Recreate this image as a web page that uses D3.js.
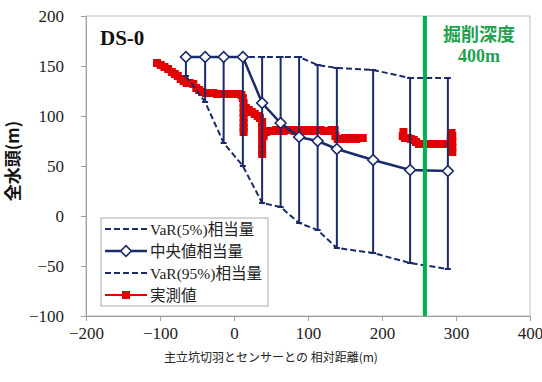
<!DOCTYPE html>
<html>
<head>
<meta charset="utf-8">
<script src="https://cdn.jsdelivr.net/npm/d3@7"></script>
<style>
  body { margin: 0; background: #fff; }
  svg { display: block; }
</style>
</head>
<body>
<div id="chart"></div>
<script>
// distance from shaft face (m)
var distances = [-65, -39, -14, 12, 38, 63, 88, 113, 139, 188, 238, 289];
var median = [159, 159, 159, 159, 113, 93, 79, 75, 67, 56, 46, 45];
var var5 = [159, 159, 159, 159, 159, 159, 159, 151, 148, 146, 138, 138];
var var95 = [140, 114, 73, 50, 13, 9, -7, -14, -32, -37, -47, -53];

// measured head, two pieces (gap in between)
var measX1 = [-104, -99, -94, -89, -84, -80, -76, -72, -68, -64, -60, -55, -51, -47, -43, -38, -33, -28, -23, -18, -13, -8, -3, 2, 7, 10,
  12, 13, 13, 13, 13, 13, 13, 13, 16, 20, 24, 28, 32, 35,
  38, 38, 38, 38, 38, 38, 38, 40, 43, 47, 52, 57, 62, 67, 72, 77, 82, 87, 92, 97, 102, 107, 112, 117, 122, 127, 132, 136,
  137, 140, 145, 150, 155, 160, 165, 170, 174];
var measY1 = [153, 151, 149, 147, 144, 142, 140, 137, 135, 133, 133, 132, 128, 126, 124, 123, 123, 123, 122, 122, 122, 122, 122, 122, 122, 121,
  118, 113, 108, 103, 98, 93, 88, 84, 108, 106, 104, 102, 100, 98,
  94, 89, 84, 78, 72, 66, 62, 80, 84, 85, 85, 86, 85, 85, 86, 86, 85, 86, 86, 85, 86, 85, 86, 86, 85, 85, 86, 86,
  80, 77, 77, 78, 77, 78, 77, 78, 78];
var measX2 = [228, 229, 231, 235, 239, 243, 246, 250, 255, 260, 265, 270, 275, 280, 285, 290, 293, 294, 295, 295, 295, 295];
var measY2 = [80, 84, 78, 78, 77, 76, 74, 72, 72, 72, 72, 72, 72, 72, 72, 72, 78, 83, 80, 74, 68, 64];

var xTicks = [-200, -100, 0, 100, 200, 300, 400];
var yTicks = [-100, -50, 0, 50, 100, 150, 200];
var excavation = 258;

var legendLabels = ['VaR(5%)相当量', '中央値相当量', 'VaR(95%)相当量', '実測値'];

var NAVY = '#1b2a6b', RED = '#e30000', GREEN = '#00b050';
var SERIF = '"Liberation Serif", "Times New Roman", serif';

////////////////////////////////////////////////////////////////////////////////////

var width = 542, height = 382;
var svg = d3.select('#chart').append('svg').attr('width', width).attr('height', height);

var x = d3.scaleLinear().domain([-200, 400]).range([86, 530]);
var y = d3.scaleLinear().domain([-100, 200]).range([316, 16]);

// plot frame
svg.append('rect').attr('x', x(-200)).attr('y', y(200))
  .attr('width', x(400) - x(-200)).attr('height', y(-100) - y(200))
  .attr('fill', 'none').attr('stroke', '#bdbdbd');

var gx = svg.append('g').attr('transform', 'translate(0,' + y(-100) + ')')
  .call(d3.axisBottom(x).tickValues(xTicks).tickSize(5).tickPadding(6));
var gy = svg.append('g').attr('transform', 'translate(' + x(-200) + ',0)')
  .call(d3.axisLeft(y).tickValues(yTicks).tickSize(5).tickPadding(17));
[gx, gy].forEach(function (g) {
  g.attr('font-family', SERIF).attr('font-size', 17);
  g.select('.domain').attr('stroke', '#9e9e9e');
  g.selectAll('.tick line').attr('stroke', '#9e9e9e');
  g.selectAll('.tick text').attr('fill', '#222');
});

////////////////////////////////////////////////////////////////////////////////////
// measured (red)

function measPts(xs, ys) { return xs.map(function (d, i) { return [x(d), y(ys[i])]; }); }
var redLine = d3.line();
[measPts(measX1, measY1), measPts(measX2, measY2)].forEach(function (pts) {
  svg.append('path').attr('d', redLine(pts)).attr('fill', 'none').attr('stroke', RED).attr('stroke-width', 2.5);
  svg.append('g').selectAll('rect').data(pts).enter().append('rect')
    .attr('x', function (d) { return d[0] - 4; }).attr('y', function (d) { return d[1] - 4; })
    .attr('width', 8).attr('height', 8).attr('fill', RED);
});

////////////////////////////////////////////////////////////////////////////////////
// error bars + VaR lines + median

var bars = svg.append('g').attr('stroke', NAVY).attr('stroke-width', 2);
distances.forEach(function (d, i) {
  bars.append('line').attr('x1', x(d)).attr('x2', x(d)).attr('y1', y(var5[i])).attr('y2', y(var95[i]));
  bars.append('line').attr('x1', x(d) - 3).attr('x2', x(d) + 3).attr('y1', y(var95[i])).attr('y2', y(var95[i]));
  bars.append('line').attr('x1', x(d) - 3).attr('x2', x(d) + 3).attr('y1', y(var5[i])).attr('y2', y(var5[i]));
});

function seriesLine(vals) {
  return d3.line().x(function (d, i) { return x(distances[i]); }).y(function (d) { return y(d); })(vals);
}
svg.append('path').attr('d', seriesLine(var5)).attr('fill', 'none').attr('stroke', NAVY)
  .attr('stroke-width', 2).attr('stroke-dasharray', '6,3');
svg.append('path').attr('d', seriesLine(var95)).attr('fill', 'none').attr('stroke', NAVY)
  .attr('stroke-width', 2).attr('stroke-dasharray', '6,3');
svg.append('path').attr('d', seriesLine(median)).attr('fill', 'none').attr('stroke', NAVY).attr('stroke-width', 2.5);

var diamond = d3.symbol().type(d3.symbolDiamond2).size(75);
svg.append('g').selectAll('path').data(median).enter().append('path')
  .attr('d', diamond)
  .attr('transform', function (d, i) { return 'translate(' + x(distances[i]) + ',' + y(d) + ')'; })
  .attr('fill', '#fff').attr('stroke', NAVY).attr('stroke-width', 1.6);

////////////////////////////////////////////////////////////////////////////////////
// excavation depth marker

svg.append('line').attr('x1', x(excavation)).attr('x2', x(excavation))
  .attr('y1', y(200)).attr('y2', y(-100)).attr('stroke', GREEN).attr('stroke-width', 4);
svg.append('text').attr('x', 479).attr('y', 41).attr('text-anchor', 'middle')
  .attr('font-family', '"Noto Sans CJK JP", sans-serif').attr('font-weight', 'bold')
  .attr('font-size', 18).attr('fill', '#1fa24f').text('掘削深度');
svg.append('text').attr('x', 479).attr('y', 62).attr('text-anchor', 'middle')
  .attr('font-family', SERIF).attr('font-weight', 'bold')
  .attr('font-size', 18).attr('fill', '#1fa24f').text('400m');

svg.append('text').attr('x', 100).attr('y', 45)
  .attr('font-family', SERIF).attr('font-weight', 'bold')
  .attr('font-size', 21).attr('fill', '#111').text('DS-0');

////////////////////////////////////////////////////////////////////////////////////
// legend

var lg = svg.append('g').attr('transform', 'translate(101,218)');
lg.append('rect').attr('width', 167).attr('height', 88).attr('fill', '#fff').attr('stroke', '#aaa');
legendLabels.forEach(function (lab, i) {
  var ly = 11 + i * 22;
  var row = lg.append('g').attr('transform', 'translate(0,' + ly + ')');
  var ln = row.append('line').attr('x1', 4).attr('x2', 46).attr('y1', 0).attr('y2', 0)
    .attr('stroke', i === 3 ? RED : NAVY).attr('stroke-width', i === 3 ? 2 : 2.5);
  if (i === 0 || i === 2) ln.attr('stroke-dasharray', '6,3').attr('stroke-width', 2);
  if (i === 1) row.append('path').attr('d', diamond).attr('transform', 'translate(25,0)')
    .attr('fill', '#fff').attr('stroke', NAVY).attr('stroke-width', 1.6);
  if (i === 3) row.append('rect').attr('x', 21).attr('y', -4).attr('width', 8).attr('height', 8).attr('fill', RED);
  row.append('text').attr('x', 49).attr('y', 5.5)
    .attr('font-family', SERIF + ', "Noto Sans CJK JP"')
    .attr('font-size', 15.5).attr('fill', '#222').text(lab);
});

////////////////////////////////////////////////////////////////////////////////////
// axis titles

svg.append('text').attr('x', 271).attr('y', 362).attr('text-anchor', 'middle')
  .attr('font-family', '"Noto Sans CJK JP", sans-serif').attr('font-size', 12).attr('fill', '#222')
  .text('主立坑切羽とセンサーとの 相対距離(m)');
svg.append('text').attr('transform', 'translate(19,161) rotate(-90)').attr('text-anchor', 'middle')
  .attr('font-family', '"Noto Sans CJK JP", sans-serif').attr('font-weight', 'bold')
  .attr('font-size', 17).attr('fill', '#111').text('全水頭(m)');
</script>
</body>
</html>
